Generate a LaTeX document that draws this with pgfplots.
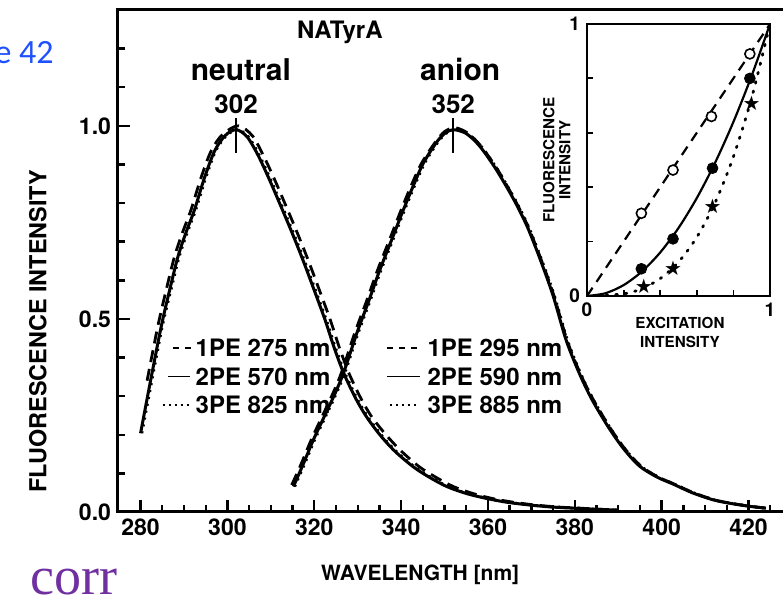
\documentclass[border=0pt]{standalone}
\usepackage{fontspec}
\setmainfont{TeX Gyre Heros}
\newfontfamily\slidefont{Carlito}
\newfontfamily\slideserif{Liberation Serif}
\newfontfamily\symfont{DejaVu Sans}
\usepackage{pgfplots}
\pgfplotsset{compat=1.18}
\definecolor{slideblue}{RGB}{30,80,255}
\definecolor{slidepurple}{RGB}{112,48,160}

\begin{document}
\begin{tikzpicture}
% main spectra
\begin{axis}[
  at={(0,0)}, anchor=south west,
  scale only axis, width=333.5pt, height=251pt,
  xmin=274.8, xmax=428.4, ymin=0, ymax=1.30,
  xtick={280,300,...,420},
  minor xtick={285,290,...,425},
  ytick={0,0.5,1.0},
  minor ytick={0.1,0.2,0.3,0.4,0.6,0.7,0.8,0.9,1.1,1.2},
  yticklabel style={/pgf/number format/.cd, fixed, fixed zerofill, precision=1},
  tick pos=left, tick align=inside,
  major tick length=6pt, minor tick length=3.5pt,
  tick style={line width=1.2pt, black},
  axis line style={line width=1.5pt},
  /pgf/number format/assume math mode=true,
  tick label style={font=\bfseries\fontsize{11.5}{12}\selectfont},
  xlabel={WAVELENGTH [nm]},
  ylabel={FLUORESCENCE INTENSITY},
  xlabel style={at={(axis description cs:0.453,-0.125)}, anchor=center,
                font=\bfseries\fontsize{10.5}{12}\selectfont},
  ylabel style={at={(axis description cs:-0.12,0.36)}, anchor=center,
                font=\bfseries\fontsize{11.7}{12}\selectfont},
  clip=false,
]
% neutral, 2PE (solid)
\addplot[black, line width=1.5pt, smooth] coordinates {
 (280.0,0.204)(282.3,0.34)(284.75,0.48)(286.7,0.575)(288.6,0.661)(290.5,0.725)
 (292.4,0.782)(294.7,0.865)(297.05,0.935)(299.5,0.975)(302.0,0.99)(304.5,0.972)
 (307.0,0.925)(309.5,0.865)(312.0,0.80)(314.7,0.728)(317.3,0.655)(319.8,0.58)
 (322.5,0.497)(324.6,0.425)(326.8,0.359)(329.5,0.295)(332.0,0.247)(335.1,0.200)
 (338.5,0.158)(342.8,0.117)(346.5,0.09)(350.5,0.066)(355,0.048)(359.7,0.035)
 (364.5,0.025)(369.7,0.018)(374.5,0.013)(379.6,0.010)(385,0.007)(390,0.005)};
% neutral, 1PE (dashed)
\addplot[black, line width=1.4pt, smooth, dash pattern=on 6pt off 3.5pt] coordinates {
 (281.5,0.34)(283.95,0.48)(285.9,0.575)(287.8,0.661)(289.7,0.725)(291.6,0.782)
 (293.9,0.865)(296.25,0.935)(298.9,0.978)(302.5,1.0)(305.7,0.975)(308.2,0.925)
 (310.7,0.865)(313.2,0.80)(315.9,0.728)(318.5,0.655)(321.0,0.58)(323.7,0.497)
 (325.8,0.425)(328.0,0.359)(330.7,0.295)(333.2,0.247)(336.5,0.200)(340.0,0.158)
 (344.2,0.117)(348,0.09)(352,0.066)(356.5,0.048)(361,0.035)(366,0.025)
 (371,0.018)(376,0.013)(381,0.010)(386,0.007)(390,0.005)};
% neutral, 3PE (dotted)
\addplot[black, line width=1.4pt, smooth, dash pattern=on 1pt off 2.5pt] coordinates {
 (280.3,0.204)(282.6,0.34)(285.0,0.48)(287.0,0.575)(288.9,0.661)(290.8,0.725)
 (292.7,0.782)(295.0,0.865)(297.3,0.935)(299.8,0.975)(302.3,0.99)(304.8,0.972)
 (307.3,0.925)(309.8,0.865)(312.3,0.80)(315.0,0.728)(317.6,0.655)(320.1,0.58)
 (322.8,0.497)(324.9,0.425)(327.1,0.359)(329.8,0.295)(332.3,0.247)(335.4,0.200)
 (338.8,0.158)(343.1,0.117)(346.8,0.09)(350.8,0.066)(355.3,0.048)(360,0.035)
 (364.8,0.025)(370,0.018)(374.8,0.013)(380,0.010)(385,0.007)(389,0.005)};
% anion, 2PE (solid)
\addplot[black, line width=1.5pt, smooth] coordinates {
 (315.2,0.066)(317.5,0.125)(319.8,0.187)(322,0.24)(324.5,0.30)(326.7,0.359)
 (329.8,0.463)(332.5,0.545)(335.1,0.627)(338,0.71)(340.5,0.782)(343,0.85)
 (345.1,0.903)(348,0.955)(350,0.98)(352,0.99)(355,0.98)(358.2,0.946)
 (362,0.885)(366,0.808)(369,0.74)(372,0.655)(375,0.56)(378,0.445)(381,0.36)
 (384,0.29)(388,0.215)(391.5,0.16)(395,0.118)(399,0.09)(402.7,0.072)
 (407,0.05)(412,0.031)(416,0.022)(420,0.015)(424,0.01)};
% anion, 1PE (dashed)
\addplot[black, line width=1.4pt, smooth, dash pattern=on 6pt off 3.5pt] coordinates {
 (314.8,0.07)(317.0,0.125)(319.3,0.187)(321.5,0.24)(324.0,0.30)(326.2,0.359)
 (329.3,0.463)(332.0,0.545)(334.6,0.627)(337.5,0.71)(340.0,0.782)(342.5,0.85)
 (344.7,0.903)(347.7,0.955)(350,0.985)(352.5,0.995)(355.5,0.98)(358.5,0.946)
 (362.3,0.885)(366.2,0.808)(369.2,0.74)(372.2,0.655)(375.2,0.56)(378.2,0.445)
 (381.2,0.36)(384.3,0.29)(388.3,0.215)(391.8,0.16)(395.3,0.118)(399.3,0.09)
 (403,0.072)(407.3,0.05)(412.3,0.031)(416.3,0.022)(420.3,0.015)(424,0.01)};
% anion, 3PE (dotted)
\addplot[black, line width=1.4pt, smooth, dash pattern=on 1pt off 2.5pt] coordinates {
 (315.5,0.066)(317.8,0.125)(320.1,0.187)(322.3,0.24)(324.8,0.30)(327.0,0.359)
 (330.1,0.463)(332.8,0.545)(335.4,0.627)(338.3,0.71)(340.8,0.782)(343.3,0.85)
 (345.4,0.903)(348.3,0.955)(350.3,0.98)(352.3,0.99)(355.3,0.98)(358.5,0.946)
 (362.3,0.885)(366.3,0.808)(369.3,0.74)(372.3,0.655)(375.3,0.56)(378.3,0.445)
 (381.3,0.36)(384.3,0.29)(388.3,0.215)(391.8,0.16)(395.3,0.118)(399.3,0.09)
 (403,0.072)(407.3,0.05)(412.3,0.031)(416.3,0.022)(420.3,0.015)(423.5,0.01)};
% peak markers
\addplot[black, line width=1.2pt] coordinates {(302,0.93)(302,1.02)};
\addplot[black, line width=1.2pt] coordinates {(352,0.93)(352,1.02)};
% legend samples, neutral
\addplot[black, line width=1.2pt, dash pattern=on 3pt off 3pt] coordinates {(287.4,0.424)(292.0,0.424)};
\addplot[black, line width=0.6pt] coordinates {(286.3,0.351)(291.3,0.351)};
\addplot[black, line width=1.2pt, dash pattern=on 1pt off 2pt] coordinates {(285.1,0.277)(291.6,0.277)};
% legend samples, anion
\addplot[black, line width=1.2pt, dash pattern=on 3pt off 3pt] coordinates {(336.7,0.424)(344.4,0.424)};
\addplot[black, line width=0.6pt] coordinates {(336.7,0.351)(344.4,0.351)};
\addplot[black, line width=1.2pt, dash pattern=on 1pt off 2pt] coordinates {(337.4,0.277)(344.0,0.277)};

\node[font=\bfseries\fontsize{12}{13}\selectfont] at (axis cs:325.9,1.243) {NATyrA};
\node[font=\bfseries\fontsize{15}{16}\selectfont] at (axis cs:303.1,1.145) {neutral};
\node[font=\bfseries\fontsize{15}{16}\selectfont] at (axis cs:353.6,1.145) {anion};
\node[font=\bfseries\fontsize{13}{14}\selectfont] at (axis cs:302,1.057) {302};
\node[font=\bfseries\fontsize{13}{14}\selectfont] at (axis cs:352,1.057) {352};
\begin{scope}[every node/.style={anchor=west, inner sep=0pt, font=\bfseries\fontsize{12}{13}\selectfont}]
\node at (axis cs:292.6,0.424) {1PE 275 nm};
\node at (axis cs:292.6,0.351) {2PE 570 nm};
\node at (axis cs:292.6,0.277) {3PE 825 nm};
\node at (axis cs:346.0,0.424) {1PE 295 nm};
\node at (axis cs:346.0,0.351) {2PE 590 nm};
\node at (axis cs:346.0,0.277) {3PE 885 nm};
\end{scope}
\end{axis}

% inset: intensity dependence
\begin{axis}[
  at={(234.5pt,108pt)}, anchor=south west,
  scale only axis, width=91.5pt, height=136pt,
  xmin=0, xmax=1, ymin=0, ymax=1,
  xtick={0,1}, ytick={0,1},
  minor xtick={0.2,0.4,0.6,0.8}, minor ytick={0.2,0.4,0.6,0.8},
  tick pos=left, tick align=inside,
  major tick length=3pt, minor tick length=3pt,
  tick style={line width=0.9pt, black},
  axis line style={line width=1.1pt},
  axis background/.style={fill=white},
  /pgf/number format/assume math mode=true,
  tick label style={font=\bfseries\fontsize{9.5}{10}\selectfont},
  xlabel={EXCITATION\\INTENSITY},
  ylabel={FLUORESCENCE\\INTENSITY},
  xlabel style={at={(axis description cs:0.508,-0.135)}, anchor=center, align=center,
                font=\bfseries\fontsize{7.6}{9.5}\selectfont},
  ylabel style={at={(axis description cs:-0.165,0.5)}, anchor=center, align=center,
                font=\bfseries\fontsize{7.6}{8}\selectfont},
]
\addplot[black, line width=1.1pt, dash pattern=on 5pt off 3.5pt] coordinates {(0,0)(1,1)};
\addplot[black, line width=1.1pt, smooth] coordinates {
 (0,0)(0.1,0.01)(0.2,0.04)(0.3,0.09)(0.4,0.16)(0.5,0.25)(0.6,0.36)(0.7,0.49)(0.8,0.64)(0.9,0.81)(1,1)};
\addplot[black, line width=1.4pt, smooth, dash pattern=on 0.8pt off 4pt, line cap=round] coordinates {
 (0,0)(0.2,0.008)(0.3,0.027)(0.4,0.064)(0.5,0.125)(0.6,0.216)(0.7,0.343)(0.8,0.512)(0.9,0.729)(1,1)};
\addplot[only marks, mark=*, mark size=2.5pt, mark options={fill=white, draw=black, line width=0.8pt}] coordinates {
 (0.297,0.304)(0.47,0.463)(0.68,0.66)(0.89,0.89)};
\addplot[only marks, mark=*, mark size=2.7pt, black] coordinates {
 (0.297,0.10)(0.47,0.21)(0.686,0.47)(0.89,0.80)};
\addplot[only marks, mark=text, text mark={\symfont\fontsize{10}{10}\selectfont ★}] coordinates {
 (0.31,0.034)(0.47,0.10)(0.686,0.33)(0.90,0.71)};
\end{axis}

% fragments of the surrounding slide
\node[anchor=base east, inner sep=0pt, text=slideblue, font=\slidefont\fontsize{17}{17}\selectfont] at (-32pt,224pt) {e 42};
\node[anchor=base west, inner sep=0pt, text=slidepurple, font=\slideserif\fontsize{27}{27}\selectfont] at (-44pt,-41.5pt) {corr};

\pgfresetboundingbox
\useasboundingbox (-59pt,-46pt) rectangle (332.5pt,256pt);
\end{tikzpicture}
\end{document}
